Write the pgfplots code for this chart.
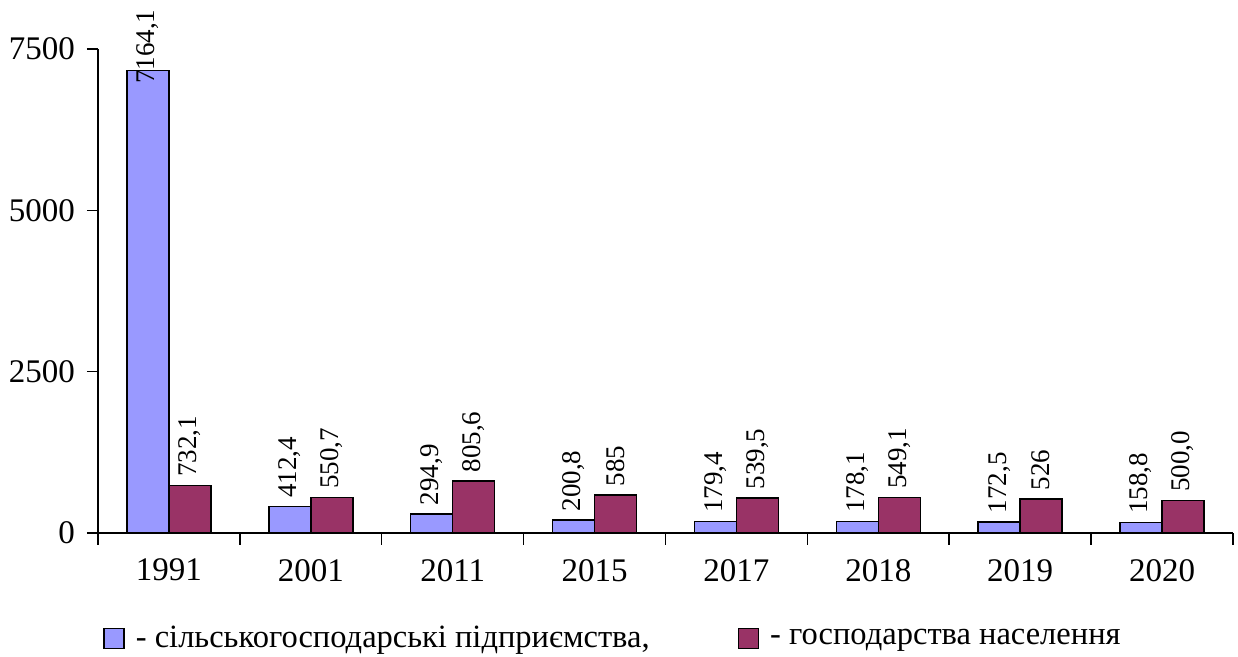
\documentclass[border=0pt]{standalone}
\usepackage{fontspec}
\setmainfont{Liberation Serif}
\usepackage{pgfplots}
\usepackage{pgfplotstable}
\pgfplotsset{compat=1.18}
\definecolor{cA}{HTML}{9999FF}
\definecolor{cB}{HTML}{993366}
\pgfplotstableread{
x y lab off
0 7164.1 7164,1 -7
1 412.4 412,4 4
2 294.9 294,9 4
3 200.8 200,8 4
4 179.4 179,4 4
5 178.1 178,1 4
6 172.5 172,5 4
7 158.8 158,8 4
}\tA
\pgfplotstableread{
x y lab off
0 732.1 732,1 4
1 550.7 550,7 4
2 805.6 805,6 4
3 585 585 4
4 539.5 539,5 4
5 549.1 549,1 4
6 526 526 4
7 500.0 500,0 4
}\tB
\begin{document}
\begin{tikzpicture}
\useasboundingbox (-49pt,-62pt) rectangle (570pt,266.5pt);
\begin{axis}[
  scale only axis,
  width=567.5pt, height=242pt,
  at={(0,0)}, anchor=south west,
  xmin=-0.5, xmax=7.5, ymin=0, ymax=7500,
  axis x line=bottom, axis y line=left, axis line style={-, line width=0.75pt},
  tick align=outside, xtick pos=bottom, ytick pos=left,
  /pgf/number format/assume math mode=true,
  xtick={0,...,7},
  xticklabels={1991,2001,2011,2015,2017,2018,2019,2020},
  major x tick style={draw=none},
  minor xtick={-0.5,0.5,...,7.5},
  minor tick length=6pt,
  major tick length=5.5pt,
  tick style={line width=0.75pt, black},
  ytick={0,2500,5000,7500},
  yticklabels={0,2500,5000,7500},
  ticklabel style={font=\fontsize{16.5}{18}\selectfont},
  xticklabel style={yshift=-4pt},
  yticklabel style={xshift=-2.5pt},
  ybar=0pt, bar width=21pt,
  clip=false,
  point meta=explicit symbolic,
  nodes near coords,
  visualization depends on={\thisrow{off} \as \myoff},
  nodes near coords style={yshift=\myoff pt, rotate=90, anchor=west, inner sep=0pt, font=\fontsize{13.5}{15}\selectfont, black},
  legend columns=2,
  legend style={draw=none, fill=none, at={(axis description cs:0,0)}, anchor=north west,
    xshift=2.5pt, yshift=-44.5pt, inner sep=0pt,
    font=\fontsize{16.25}{18}\selectfont,
    /tikz/every odd column/.append style={column sep=3.5pt},
    /tikz/every even column/.append style={column sep=42pt}},
  legend image code/.code={\draw[#1, line width=0.75pt] (0pt,-5pt) rectangle (10pt,5pt);},
]
\addplot[fill=cA, draw=black, line width=0.75pt] table[x=x, y=y, meta=lab] {\tA};
\addplot[fill=cB, draw=black, line width=0.75pt] table[x=x, y=y, meta=lab] {\tB};
\legend{{- сільськогосподарські підприємства,}, {- господарства населення}}
\end{axis}
\end{tikzpicture}
\end{document}
